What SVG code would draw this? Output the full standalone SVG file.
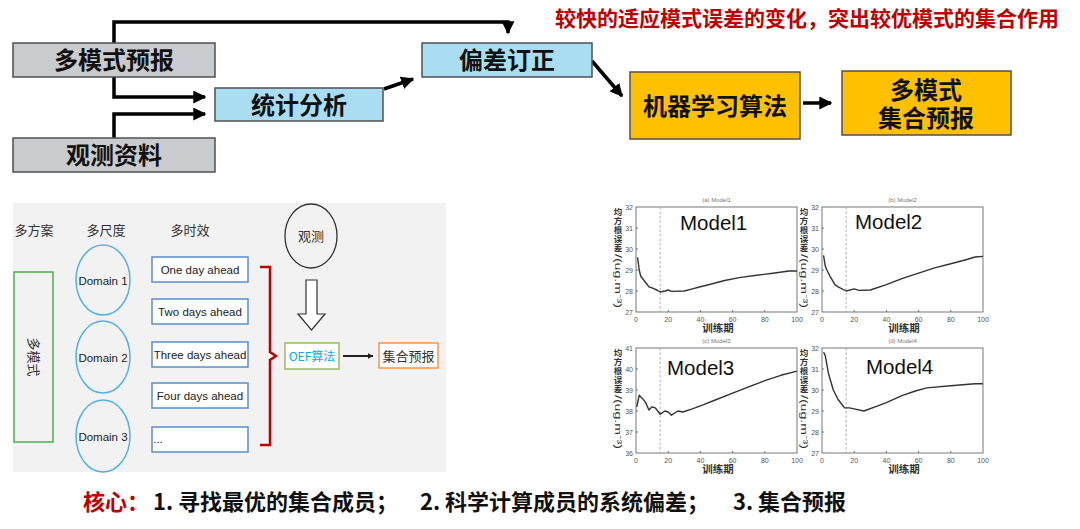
<svg xmlns="http://www.w3.org/2000/svg" width="1080" height="529" viewBox="0 0 1080 529">
<style>
.cjk{font-family:"Noto Sans CJK SC","Liberation Sans",sans-serif}
.bt{font-family:"Noto Sans CJK SC",sans-serif;font-weight:bold;font-size:24px;fill:#111;text-anchor:middle}
.grey{fill:#c9cbce;stroke:#505050;stroke-width:1.5}
.blue{fill:#a9ddf2;stroke:#505050;stroke-width:1.5}
.gold{fill:#ffc000;stroke:#505050;stroke-width:1.5}
.conn{fill:none;stroke:#000;stroke-width:3.5}
.tbox{fill:#fff;stroke:#5b8fc9;stroke-width:1.5}
.tt{font-family:"Liberation Sans",sans-serif;font-size:11.5px;fill:#222;text-anchor:middle}
.dom{fill:none;stroke:#4fb4e4;stroke-width:1.5}
.lab{font-family:"Noto Sans CJK SC",sans-serif;font-size:13px;fill:#333;text-anchor:middle}
.ax{fill:none;stroke:#555;stroke-width:0.8}
.tick{font-family:"Liberation Sans",sans-serif;font-size:7px;fill:#555}
.yl{font-family:"Noto Sans CJK SC",sans-serif;font-size:8.5px;fill:#333;text-anchor:middle;font-weight:bold}
.xl{font-family:"Noto Sans CJK SC",sans-serif;font-size:10.5px;fill:#333;text-anchor:middle;font-weight:bold}
.ttl{font-family:"Liberation Sans",sans-serif;font-size:6px;fill:#777;text-anchor:middle}
.mdl{font-family:"Liberation Sans",sans-serif;font-size:20.5px;fill:#111}
.dash{stroke:#999;stroke-width:0.8;stroke-dasharray:2.5,2}
.crv{fill:none;stroke:#333;stroke-width:1.4;stroke-linejoin:round}
</style>
<defs>
<marker id="ah" viewBox="0 0 10 10" refX="9" refY="5" markerWidth="13" markerHeight="13" markerUnits="userSpaceOnUse" orient="auto">
<path d="M0,0 L10,5 L0,10 Z" fill="#000"/>
</marker>
<marker id="ahs" viewBox="0 0 10 10" refX="9" refY="5" markerWidth="6" markerHeight="6" markerUnits="userSpaceOnUse" orient="auto">
<path d="M0,0 L10,5 L0,10 Z" fill="#222"/>
</marker>
<g id="yticksA">
<text class="tick" x="-3" y="2.5" text-anchor="end">32</text>
<text class="tick" x="-3" y="23.5" text-anchor="end">31</text>
<text class="tick" x="-3" y="44.5" text-anchor="end">30</text>
<text class="tick" x="-3" y="65.5" text-anchor="end">29</text>
<text class="tick" x="-3" y="86.5" text-anchor="end">28</text>
<text class="tick" x="-3" y="107.5" text-anchor="end">27</text>
</g>
<g id="frame">
<rect class="ax" x="0" y="0" width="161" height="105"/>
<path class="ax" d="M0,21h2M0,42h2M0,63h2M0,84h2M32.2,105v-2M64.4,105v-2M96.6,105v-2M128.8,105v-2"/>
<line class="dash" x1="24.15" y1="0" x2="24.15" y2="105"/>
<text class="tick" x="0" y="115" text-anchor="middle">0</text>
<text class="tick" x="32.2" y="115" text-anchor="middle">20</text>
<text class="tick" x="64.4" y="115" text-anchor="middle">40</text>
<text class="tick" x="96.6" y="115" text-anchor="middle">60</text>
<text class="tick" x="128.8" y="115" text-anchor="middle">80</text>
<text class="tick" x="161" y="115" text-anchor="middle">100</text>
<text class="xl" x="82" y="125">训练期</text>
<text class="yl" x="-18" y="8">均</text>
<text class="yl" x="-18" y="17">方</text>
<text class="yl" x="-18" y="26">根</text>
<text class="yl" x="-18" y="35">误</text>
<text class="yl" x="-18" y="44">差</text>
<text font-family="Liberation Sans,sans-serif" font-size="9" fill="#333" transform="translate(-21,47) rotate(90)" textLength="54" lengthAdjust="spacingAndGlyphs">/(ug.m⁻³)</text>
</g>
</defs>

<rect x="0" y="0" width="1080" height="529" fill="#fff"/>

<!-- top flowchart -->
<g id="connectors-top">
<path class="conn" d="M114,43 V22 H508 V33" marker-end="url(#ah)"/>
<path class="conn" d="M114,77 V97 H205" marker-end="url(#ah)"/>
<path class="conn" d="M114,138 V114 H205" marker-end="url(#ah)"/>
<path class="conn" d="M384,89 L413,79" marker-end="url(#ah)"/>
<path class="conn" d="M592,61 L622,96" marker-end="url(#ah)"/>
<path class="conn" d="M803,103 H831" marker-end="url(#ah)"/>
</g>
<g id="n-multimodel">
<rect class="grey" x="13" y="43" width="202" height="34"/>
<text class="bt" x="114" y="69">多模式预报</text>
</g>
<g id="n-obs">
<rect class="grey" x="13" y="138" width="202" height="34"/>
<text class="bt" x="114" y="164">观测资料</text>
</g>
<g id="n-stat">
<rect class="blue" x="215" y="88" width="168" height="33"/>
<text class="bt" x="299" y="113.5">统计分析</text>
</g>
<g id="n-bias">
<rect class="blue" x="422" y="43" width="170" height="34"/>
<text class="bt" x="507" y="69">偏差订正</text>
</g>
<g id="n-ml">
<rect class="gold" x="630" y="72" width="170" height="67"/>
<text class="bt" x="715" y="115">机器学习算法</text>
</g>
<g id="n-ens">
<rect class="gold" x="842" y="71" width="169" height="64"/>
<text class="bt" x="926" y="99" font-size="23">多模式</text>
<text class="bt" x="926" y="127" font-size="23">集合预报</text>
</g>
<text class="cjk" x="555" y="25.5" font-size="21" font-weight="bold" fill="#c00000">较快的适应模式误差的变化，突出较优模式的集合作用</text>

<!-- bottom-left panel -->
<g id="panel-oef">
<rect x="13" y="203" width="433" height="269" fill="#f2f2f2"/>
<text class="lab" x="34" y="235">多方案</text>
<text class="lab" x="106" y="235">多尺度</text>
<text class="lab" x="190" y="235">多时效</text>
<g id="n-multi">
<rect x="14" y="272" width="39" height="170" fill="none" stroke="#4caf50" stroke-width="1.5"/>
<text class="lab" transform="translate(29,357) rotate(90)" font-size="13" fill="#444">多模式</text>
</g>
<g id="n-d1"><ellipse class="dom" cx="103" cy="280" rx="27" ry="35"/><text class="tt" x="103" y="285">Domain 1</text></g>
<g id="n-d2"><ellipse class="dom" cx="103" cy="357" rx="27" ry="36"/><text class="tt" x="103" y="362">Domain 2</text></g>
<g id="n-d3"><ellipse class="dom" cx="103" cy="436" rx="27" ry="36"/><text class="tt" x="103" y="441">Domain 3</text></g>
<g id="n-t1"><rect class="tbox" x="152" y="257" width="96" height="25"/><text class="tt" x="200" y="273.5">One day ahead</text></g>
<g id="n-t2"><rect class="tbox" x="152" y="299" width="96" height="25"/><text class="tt" x="200" y="315.5">Two days ahead</text></g>
<g id="n-t3"><rect class="tbox" x="152" y="342" width="96" height="25"/><text class="tt" x="200" y="358.5">Three days ahead</text></g>
<g id="n-t4"><rect class="tbox" x="152" y="383" width="96" height="25"/><text class="tt" x="200" y="399.5">Four days ahead</text></g>
<g id="n-t5"><rect class="tbox" x="152" y="427" width="96" height="25"/><text class="tt" x="158" y="443" text-anchor="start">...</text></g>
<path d="M260,267 H270 V352 L276,356 L270,360 V445 H260" fill="none" stroke="#c00000" stroke-width="2.5" stroke-linejoin="miter"/>
<g id="n-obs2">
<ellipse cx="311" cy="236" rx="26" ry="32" fill="none" stroke="#333" stroke-width="1.3"/>
<text class="lab" x="311" y="241" font-size="12.5">观测</text>
</g>
<path d="M306,280 H317 V314 H325 L311.5,330 L298,314 H306 Z" fill="#fff" stroke="#333" stroke-width="1.2"/>
<g id="n-oef">
<rect x="285" y="343" width="54" height="26" fill="#fff" stroke="#9bbb59" stroke-width="1.5"/>
<text class="cjk" x="312" y="360.5" font-size="12" fill="#00b0f0" text-anchor="middle">OEF算法</text>
</g>
<line x1="343" y1="356" x2="373" y2="356" stroke="#222" stroke-width="2" marker-end="url(#ahs)"/>
<g id="n-ensout">
<rect x="379" y="343" width="59" height="25" fill="#fff" stroke="#f79646" stroke-width="1.5"/>
<text class="lab" x="408.5" y="360.5" font-size="12.5" fill="#222">集合预报</text>
</g>
</g>

<!-- charts -->
<g id="chart1" transform="translate(636,207)">
<use href="#frame"/><use href="#yticksA"/>
<text class="ttl" x="80.5" y="-5">(a) Model1</text>
<text class="mdl" x="44" y="23">Model1</text>
<polyline class="crv" points="1.6,50.4 3.2,63 4.8,69.3 8.05,73.5 12.9,79.8 16.1,80.9 20.9,83 24.2,85 29,84 32.2,83 35.4,84.4 48.3,84 56.4,81.9 64.4,79.8 72.5,77.7 88.6,73.5 104.7,70.4 120.8,68.3 136.9,66.2 153,64 161,64"/>
</g>
<g id="chart2" transform="translate(822,207)">
<use href="#frame"/><use href="#yticksA"/>
<text class="ttl" x="80.5" y="-5">(b) Model2</text>
<text class="mdl" x="33" y="22">Model2</text>
<polyline class="crv" points="1.6,48.3 3.2,58.8 4.8,63 8.1,69.3 12.9,77.7 16.1,79.8 24.2,84 32.2,81.9 37,83.4 48.3,83 64.4,77.7 80.5,71.4 96.6,66.2 112.7,60.9 128.8,56.7 144.9,52.5 153,50 161,49.4"/>
</g>
<g id="chart3" transform="translate(636,348)">
<use href="#frame"/>
<text class="tick" x="-3" y="2.5" text-anchor="end">41</text>
<text class="tick" x="-3" y="23.5" text-anchor="end">40</text>
<text class="tick" x="-3" y="44.5" text-anchor="end">39</text>
<text class="tick" x="-3" y="65.5" text-anchor="end">38</text>
<text class="tick" x="-3" y="86.5" text-anchor="end">37</text>
<text class="tick" x="-3" y="107.5" text-anchor="end">36</text>
<text class="ttl" x="80.5" y="-5">(c) Model3</text>
<text class="mdl" x="31" y="27">Model3</text>
<polyline class="crv" points="0.8,58.8 3.2,47.3 6.4,50.4 9.7,54.6 12.9,62 16.1,58.8 19.3,59.9 24.2,66.2 29,63 32.2,64 35.4,67.2 41.9,63 46.7,64 56.4,60.9 67.6,56.7 80.5,51.5 96.6,45.2 112.7,38.9 128.8,32.6 144.9,27.3 161,23.1"/>
</g>
<g id="chart4" transform="translate(822,348)">
<use href="#frame"/><use href="#yticksA"/>
<text class="ttl" x="80.5" y="-5">(d) Model4</text>
<text class="mdl" x="44" y="26">Model4</text>
<polyline class="crv" points="1.6,4.2 3.2,7.4 6.4,25.2 11.3,42 16.1,51.5 22.5,59.9 27.4,59.9 32.2,60.9 41.9,63 53.1,58.8 64.4,54.6 80.5,47.3 93.4,43 104.7,39.9 128.8,37.8 153,35.7 161,35.7"/>
</g>

<!-- bottom summary -->
<text class="cjk" y="510" font-size="22" font-weight="bold" fill="#111"><tspan x="83" fill="#c00000">核心：</tspan><tspan x="153">1. 寻找最优的集合成员；</tspan><tspan x="420">2. 科学计算成员的系统偏差；</tspan><tspan x="733">3. 集合预报</tspan></text>
</svg>
